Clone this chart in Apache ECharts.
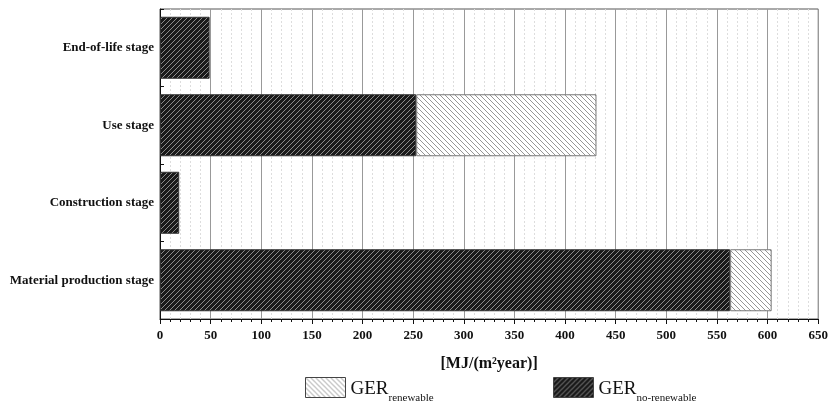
<!DOCTYPE html>
<html><head><meta charset="utf-8">
<script src="https://cdn.jsdelivr.net/npm/echarts@6/dist/echarts.min.js"></script>
<style>html,body{margin:0;padding:0;background:#fff}#c{width:831px;height:402px}</style>
</head><body><div id="c"></div>
<script>
const categories = ['Material production stage', 'Construction stage', 'Use stage', 'End-of-life stage'];
const nonRenewable = [563, 19, 253, 49];
const renewable = [41, 0, 178, 0];
const xTicks = [0, 50, 100, 150, 200, 250, 300, 350, 400, 450, 500, 550, 600, 650];

function hatch(bg, fg, dir, size, lw) {
  const c = document.createElement('canvas');
  c.width = size; c.height = size;
  const ctx = c.getContext('2d');
  ctx.fillStyle = bg; ctx.fillRect(0, 0, size, size);
  ctx.strokeStyle = fg; ctx.lineWidth = lw;
  ctx.beginPath();
  if (dir === '/') {
    ctx.moveTo(-1, size + 1); ctx.lineTo(size + 1, -1);
    ctx.moveTo(-1, 1); ctx.lineTo(1, -1);
    ctx.moveTo(size - 1, size + 1); ctx.lineTo(size + 1, size - 1);
  } else {
    ctx.moveTo(-1, -1); ctx.lineTo(size + 1, size + 1);
    ctx.moveTo(size - 1, -1); ctx.lineTo(size + 1, 1);
    ctx.moveTo(-1, size - 1); ctx.lineTo(1, size + 1);
  }
  ctx.stroke();
  return c;
}
const darkPat = { image: hatch('#1a1a1a', '#9a9a9a', '/', 5, 0.9), repeat: 'repeat' };
const lightPat = { image: hatch('#ffffff', '#8a8a8a', '\\', 5, 0.9), repeat: 'repeat' };

const serif = '"Liberation Serif","DejaVu Serif",serif';
const chart = echarts.init(document.getElementById('c'));
const legendRich = {
  g: { fontFamily: serif, fontSize: 19, color: '#111', lineHeight: 28, padding: [4, 0, 0, 0] },
  s: { fontFamily: serif, fontSize: 11, color: '#111', lineHeight: 10, padding: [22, 0, 0, 0] }
};
chart.setOption({
  animation: false,
  grid: { left: 160, right: 10, top: 9, bottom: 83, show: true, borderColor: '#555', borderWidth: 1, backgroundColor: 'transparent' },
  legend: [
    { data: ['GER_renewable'], left: 305, top: 371, padding: 0, itemWidth: 40, itemHeight: 20, icon: 'rect',
      formatter: () => '{g|GER}{s|renewable}', textStyle: { rich: legendRich }, itemStyle: { borderColor: '#444', borderWidth: 1 } },
    { data: ['GER_no-renewable'], left: 553, top: 371, padding: 0, itemWidth: 40, itemHeight: 20, icon: 'rect',
      formatter: () => '{g|GER}{s|no-renewable}', textStyle: { rich: legendRich }, itemStyle: { borderColor: '#444', borderWidth: 1 } }
  ],
  xAxis: {
    type: 'value', min: 0, max: 650, interval: 50,
    name: '[MJ/(m²year)]', nameLocation: 'middle', nameGap: 37,
    nameTextStyle: { fontFamily: serif, fontWeight: 'bold', fontSize: 16, color: '#111' },
    axisLine: { show: true, lineStyle: { color: '#111', width: 1 } },
    axisTick: { show: true, length: 5, lineStyle: { color: '#111' } },
    minorTick: { show: true, splitNumber: 5, length: 3, lineStyle: { color: '#111' } },
    axisLabel: { fontFamily: serif, fontWeight: 'bold', fontSize: 13, color: '#111', margin: 10,
      formatter: v => xTicks.includes(v) ? String(v) : '' },
    splitLine: { show: true, lineStyle: { color: '#999', width: 1 } },
    minorSplitLine: { show: true, lineStyle: { color: '#ddd', type: [2, 2], width: 1 } }
  },
  yAxis: {
    type: 'category', data: categories,
    axisLine: { show: true, lineStyle: { color: '#111' } },
    axisTick: { show: true, inside: true, length: 4, lineStyle: { color: '#111' } },
    axisLabel: { fontFamily: serif, fontWeight: 'bold', fontSize: 13, color: '#111', margin: 6 }
  },
  series: [
    { name: 'GER_no-renewable', type: 'bar', stack: 'a', data: nonRenewable, barCategoryGap: '20%',
      itemStyle: { color: darkPat, borderColor: '#333', borderWidth: 1 } },
    { name: 'GER_renewable', type: 'bar', stack: 'a', data: renewable.map(v => v === 0 ? '-' : v),
      itemStyle: { color: lightPat, borderColor: '#777', borderWidth: 1 } }
  ]
});
</script></body></html>
